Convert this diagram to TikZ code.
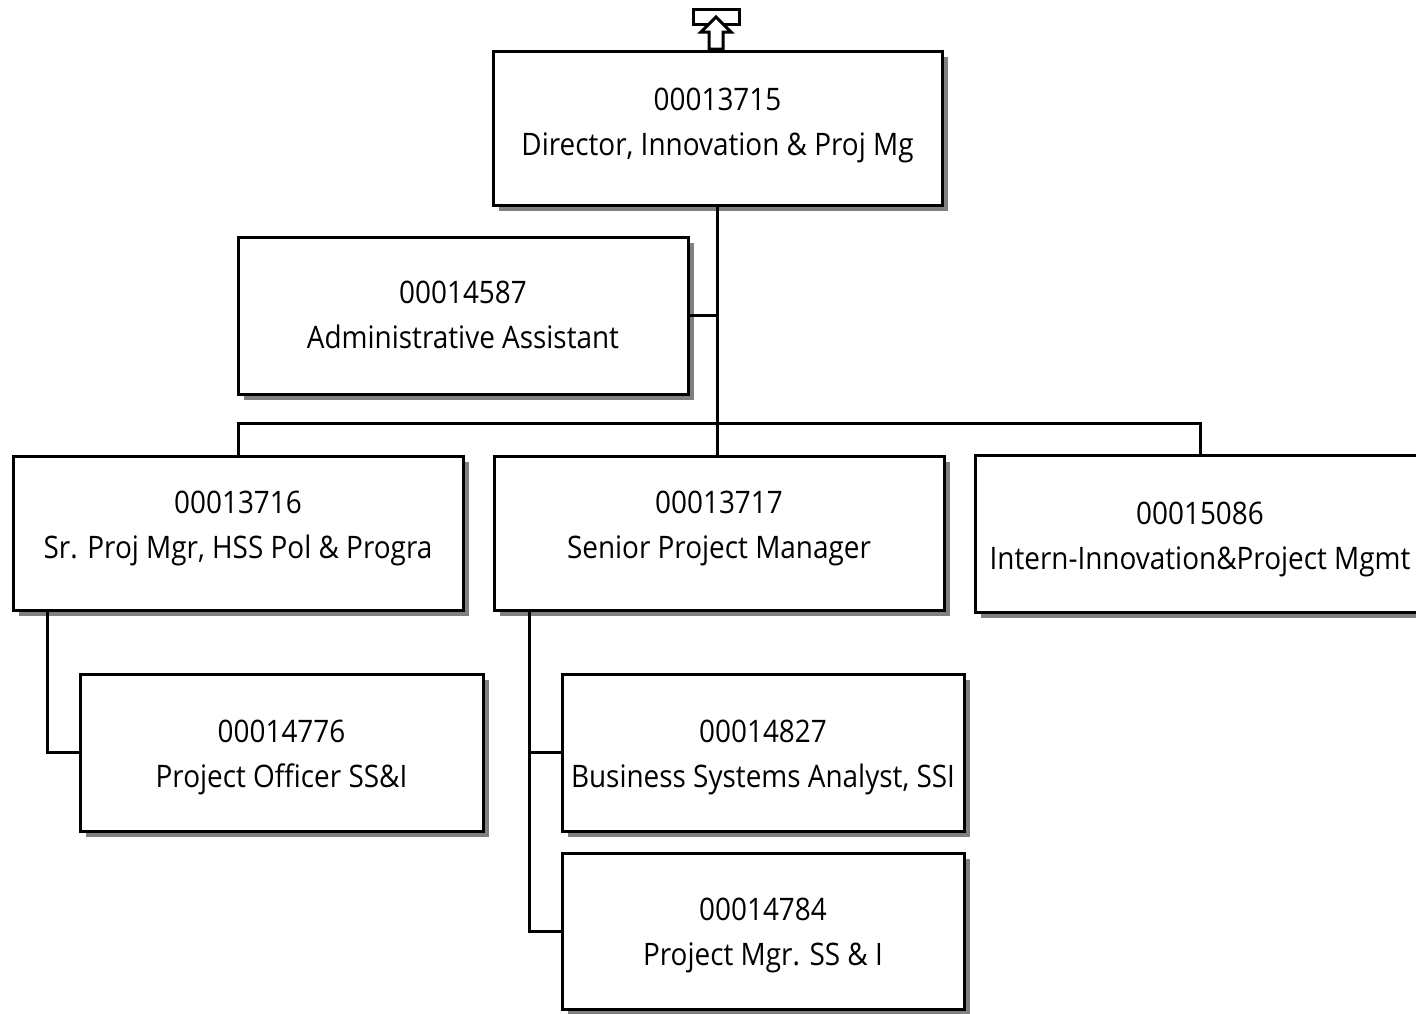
\documentclass[tikz,border=0pt]{standalone}
\usepackage{fontspec}
\setmainfont{Open Sans}[FakeStretch=0.9]
\usetikzlibrary{shadows}
% #1 = extra strut height on the first line, #2 = number, #3 = title
\newcommand{\boxtext}[3]{\rule{0pt}{#1pt}#2\\#3\rule[-17pt]{0pt}{0pt}}
\begin{document}
\begin{tikzpicture}[x=1pt,y=-1pt,
  box/.style={draw, line width=3pt, fill=white, align=center, inner sep=0pt,
    font=\fontsize{31}{45}\selectfont,
    drop shadow={shadow xshift=6pt, shadow yshift=-6pt, fill=gray, opacity=1}},
  conn/.style={line width=3pt}]
\useasboundingbox (0,0) rectangle (1416,1013);
\node[box, minimum width=449pt, minimum height=154pt] (top) at (717.5,128) {\boxtext{26}{00013715}{Director, Innovation \& Proj Mg}};
\node[box, minimum width=450pt, minimum height=157pt] (admin) at (463,315.5) {\boxtext{38}{00014587}{Administrative Assistant}};
\node[box, minimum width=450pt, minimum height=154pt] (s1) at (238,533) {\boxtext{22}{00013716}{Sr. Proj Mgr, HSS Pol \& Progra}};
\node[box, minimum width=450pt, minimum height=154pt] (s2) at (719,533) {\boxtext{22}{00013717}{Senior Project Manager}};
\node[box, minimum width=450pt, minimum height=157pt] (s3) at (1200,533.5) {\boxtext{44}{00015086}{Intern-Innovation\&Project Mgmt}};
\node[box, minimum width=403pt, minimum height=157pt] (po) at (281.5,752.5) {\boxtext{42}{00014776}{Project Officer SS\&I}};
\node[box, minimum width=402pt, minimum height=157pt] (bsa) at (763,752.5) {\boxtext{42}{00014827}{Business Systems Analyst, SSI}};
\node[box, minimum width=402pt, minimum height=156pt] (pm) at (763,931) {\boxtext{40}{00014784}{Project Mgr. SS \& I}};
% connectors
\draw[conn] (top.south) -- (top.south |- s2.north);
\draw[conn] (admin.east) -- (admin.east -| top.south);
\draw[conn] (s1.north) -- ++(0,-31) -| (s3.north);
\draw[conn] ([xshift=36pt]s1.south west) |- (po.west);
\draw[conn] ([xshift=37pt]s2.south west) |- (pm.west);
\draw[conn] ([xshift=37pt]s2.south west |- bsa.west) -- (bsa.west);
% top icon
\draw[line width=3pt] (693,9) rectangle (739,24);
\draw[line width=3pt, fill=white, line join=miter] (716,17) -- (731,32) -- (723,32) -- (723,49) -- (709,49) -- (709,32) -- (701,32) -- cycle;
\end{tikzpicture}
\end{document}
